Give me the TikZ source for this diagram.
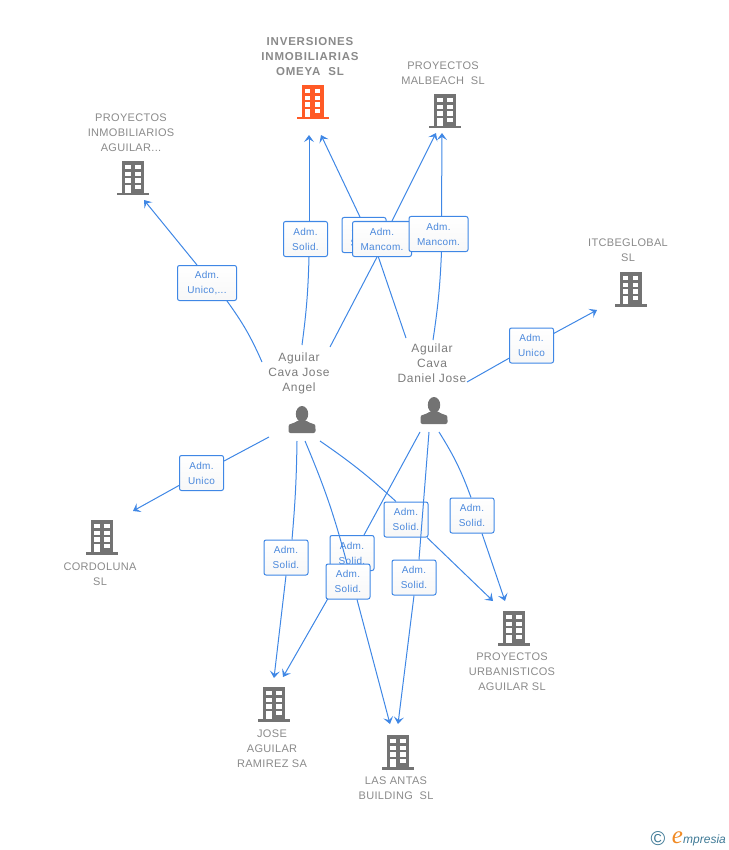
\documentclass[tikz,border=0pt]{standalone}
\usepackage{fontspec}
\setmainfont{Liberation Sans}
\newfontfamily\labelfont[LetterSpace=3]{Liberation Sans}
\newfontfamily\ownerfont[LetterSpace=5.5]{Liberation Sans}
\newfontfamily\headfont[LetterSpace=7]{Liberation Sans}
\newfontfamily\brandfont{Liberation Serif}
\usetikzlibrary{arrows.meta, positioning, calc}
\definecolor{linkblue}{HTML}{3F87E5}
\definecolor{boxtext}{HTML}{4A88DC}
\definecolor{icongray}{HTML}{737373}
\definecolor{labelgray}{HTML}{8A8A8A}
\definecolor{persongray}{HTML}{7C7C7C}
\definecolor{activeorange}{HTML}{FF5A26}
\definecolor{brandblue}{HTML}{3F7A96}
\definecolor{brandorange}{HTML}{F08A24}
\tikzset{
  building/.pic={
    \fill[pic actions] (-11,0) rectangle (11,32);
    \fill[pic actions] (-16,32) rectangle (16,34.5);
    \foreach \wy in {4,10.7,17.3} {
      \fill[white] (-7.7,\wy) rectangle (-2.3,\wy+4.4);
      \fill[white] (2.3,\wy) rectangle (7.7,\wy+4.4);
    }
    \fill[white] (-7.7,24) rectangle (-2.3,32);
    \fill[white] (2.3,24) rectangle (7.7,28.4);
  },
  person/.pic={
    \fill[icongray] (0,8) ellipse (6.2 and 8);
    \fill[icongray, rounded corners=2pt] (-13.5,27) -- (-13.5,21) .. controls (-13,18) and (-7,17) .. (-4,14)
      -- (4,14) .. controls (7,17) and (13,18) .. (13.5,21) -- (13.5,27) -- cycle;
  }
}
\begin{document}
\begin{tikzpicture}[
    x=1pt, y=-1pt,
    >={Stealth[length=7pt, width=10pt, inset=3pt]},
    link/.style={draw=linkblue, line width=1pt},
    tag/.style={draw=linkblue, line width=1pt, rounded corners=2pt, top color=white, bottom color=black!3,
      text=boxtext, font=\labelfont\fontsize{10}{15}\selectfont, align=center, minimum height=35pt, inner sep=0pt},
    tagsmall/.style={tag, minimum width=44pt},
    tagwide/.style={tag, minimum width=59pt},
    company/.style={text=labelgray, font=\labelfont\fontsize{11}{15}\selectfont, align=center, inner sep=0pt},
    owner/.style={company, text=persongray, font=\ownerfont\fontsize{12}{15}\selectfont}
  ]
  \useasboundingbox (0,0) rectangle (728,850);

  % companies
  \node[company, font=\headfont\bfseries\fontsize{11.5}{15}\selectfont] (omeyaLabel) at (310,56.7) {INVERSIONES\\INMOBILIARIAS\\OMEYA\ \ SL};
  \node[company] (malbeachLabel) at (443,73) {PROYECTOS\\MALBEACH\ \ SL};
  \node[company] (inmobLabel) at (131,132.7) {PROYECTOS\\INMOBILIARIOS\\AGUILAR...};
  \node[company] (itcLabel) at (628,250.5) {ITCBEGLOBAL\\SL};
  \node[company] (cordolunaLabel) at (100,574) {CORDOLUNA\\SL};
  \node[company] (urbanLabel) at (512,671.7) {PROYECTOS\\URBANISTICOS\\AGUILAR SL};
  \node[company] (ramirezLabel) at (272,748.7) {JOSE\\AGUILAR\\RAMIREZ SA};
  \node[company] (antasLabel) at (396,788) {LAS ANTAS\\BUILDING\ \ SL};
  \pic[fill=activeorange] at (312.5,85) {building};
  \pic[fill=icongray] at (445,94) {building};
  \pic[fill=icongray] at (133,161) {building};
  \pic[fill=icongray] at (630.5,272) {building};
  \pic[fill=icongray] at (102,520) {building};
  \pic[fill=icongray] at (514,611) {building};
  \pic[fill=icongray] at (274,687) {building};
  \pic[fill=icongray] at (398,735) {building};

  % people
  \node[owner] (joseLabel) at (299,373) {Aguilar\\Cava Jose\\Angel};
  \node[owner] (danielLabel) at (432,363) {Aguilar\\Cava\\Daniel Jose};
  \pic at (302,406) {person};
  \pic at (434,397) {person};

  % free ends
  \coordinate (joseA) at (262,362);
  \coordinate (joseB) at (302,345);
  \coordinate (joseC) at (330,347);
  \coordinate (joseD) at (269,437);
  \coordinate (joseE) at (297,441);
  \coordinate (joseF) at (305,441);
  \coordinate (joseG) at (320,441);
  \coordinate (danielA) at (406,338);
  \coordinate (danielB) at (433,340);
  \coordinate (danielC) at (467,382);
  \coordinate (danielD) at (420,432);
  \coordinate (danielE) at (429,432);
  \coordinate (danielF) at (439,432);
  \coordinate (toInmob) at (144,200);
  \coordinate (toOmeyaA) at (309,135);
  \coordinate (toOmeyaB) at (321,135);
  \coordinate (toMalbeachA) at (436,133);
  \coordinate (toMalbeachB) at (442,133);
  \coordinate (toItc) at (597,310);
  \coordinate (toCordoluna) at (133,511);
  \coordinate (toRamirezA) at (274,678);
  \coordinate (toRamirezB) at (283,677);
  \coordinate (toAntasA) at (390,724);
  \coordinate (toAntasB) at (398,724);
  \coordinate (toUrbanA) at (493,601);
  \coordinate (toUrbanB) at (505,601);

  % links, upper part
  \node[tagwide] (boxInmob) at (207,283) {Adm.\\Unico,...};
  \draw[link] (joseA) to[bend right=6] ([xshift=20pt]boxInmob.south);
  \draw[link, ->] ([xshift=-10pt]boxInmob.north) -- (toInmob);

  \node[tagsmall] (boxOmeyaA) at (305.5,239) {Adm.\\Solid.};
  \draw[link] (joseB) to[bend right=3] ([xshift=3.5pt]boxOmeyaA.south);
  \draw[link, ->] ([xshift=3.5pt]boxOmeyaA.north) -- (toOmeyaA);

  \node[tagsmall] (boxOmeyaB) at (364,235) {Adm.\\Solid.};
  \draw[link] (danielA) -- ([xshift=13pt]boxOmeyaB.south);
  \draw[link, ->] ([xshift=-4pt]boxOmeyaB.north) -- (toOmeyaB);

  \node[tagwide] (boxMalbeachA) at (382,239) {Adm.\\Mancom.};
  \draw[link] (joseC) -- ([xshift=-5pt]boxMalbeachA.south);
  \draw[link, ->] ([xshift=10pt]boxMalbeachA.north) -- (toMalbeachA);

  \node[tagwide] (boxMalbeachB) at (438.5,234) {Adm.\\Mancom.};
  \draw[link] (danielB) to[bend right=3] ([xshift=3pt]boxMalbeachB.south);
  \draw[link, ->] ([xshift=3pt]boxMalbeachB.north) -- (toMalbeachB);

  \node[tagsmall] (boxItc) at (531.5,345.5) {Adm.\\Unico};
  \draw[link] (danielC) -- (boxItc);
  \draw[link, ->] (boxItc) -- (toItc);

  % links, lower part
  \node[tagsmall] (boxCordoluna) at (201.5,473) {Adm.\\Unico};
  \draw[link] (joseD) -- (boxCordoluna);
  \draw[link, ->] (boxCordoluna) -- (toCordoluna);

  \node[tagsmall] (boxRamirezA) at (286,557.5) {Adm.\\Solid.};
  \draw[link] (joseE) to[bend left=2] ([xshift=6pt]boxRamirezA.north);
  \draw[link, ->] (boxRamirezA.south) -- (toRamirezA);

  \node[tagsmall] (boxRamirezB) at (352,553) {Adm.\\Solid.};
  \draw[link] (danielD) -- ([xshift=12pt]boxRamirezB.north);
  \draw[link, ->] ([xshift=-8.3pt]boxRamirezB.south) -- (toRamirezB);

  \node[tagsmall] (boxUrbanA) at (406,519.5) {Adm.\\Solid.};
  \draw[link] (joseG) to[bend left=4] ([xshift=-10pt]boxUrbanA.north);
  \draw[link, ->] ([xshift=21pt]boxUrbanA.south) -- (toUrbanA);

  \node[tagsmall] (boxUrbanB) at (472,515.5) {Adm.\\Solid.};
  \draw[link] (danielF) to[bend left=6] ([xshift=-1pt]boxUrbanB.north);
  \draw[link, ->] ([xshift=10pt]boxUrbanB.south) -- (toUrbanB);

  \node[tagsmall] (boxAntasB) at (414,577.5) {Adm.\\Solid.};
  \draw[link] (danielE) -- ([xshift=5pt]boxAntasB.north);
  \draw[link, ->] (boxAntasB.south) -- (toAntasB);

  \node[tagsmall] (boxAntasA) at (348,581.5) {Adm.\\Solid.};
  \draw[link] (joseF) to[bend left=4] ([xshift=-1pt]boxAntasA.north);
  \draw[link, ->] ([xshift=9pt]boxAntasA.south) -- (toAntasA);

  % brand
  \node[text=brandblue, font=\fontsize{20}{20}\selectfont, inner sep=0pt] (brandMark) at (658,838.5) {©};
  \node[text=brandorange, font=\brandfont\itshape\fontsize{25}{25}\selectfont, inner sep=0pt] (brandE) at (677.5,838) {e};
  \node[text=brandblue, font=\itshape\fontsize{12}{12}\selectfont, inner sep=0pt, anchor=west] (brandName) at (683,840) {mpresia};
\end{tikzpicture}
\end{document}
